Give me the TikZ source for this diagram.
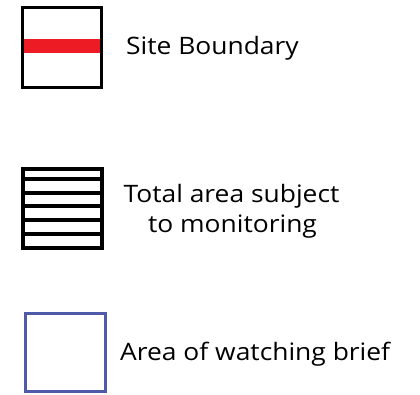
\documentclass[tikz,border=0pt]{standalone}
\usepackage{fontspec}
\setmainfont[FakeStretch=1.1]{Open Sans}
\definecolor{sitered}{RGB}{237,28,36}
\definecolor{briefblue}{RGB}{79,90,168}
\begin{document}
\begin{tikzpicture}[x=1pt,y=-1pt,
  legtext/.style={font=\fontsize{24}{28}\selectfont, inner sep=0pt, anchor=base west},
  legtextc/.style={font=\fontsize{24}{28}\selectfont, inner sep=0pt, anchor=base}]
\useasboundingbox[fill=white] (0,0) rectangle (420,395);
% Site boundary
\fill[sitered] (22.5,39) rectangle (101.5,53);
\draw[line width=3pt] (22.5,7.5) rectangle (101.5,87.5);
\node[legtext] (t1) at (126,55) {Site Boundary};
% Monitoring
\foreach \yy in {179,193,206,220,234}
  \fill[black] (23,\yy-2.3) rectangle (102,\yy+2.3);
\draw[line width=4pt] (23,169) rectangle (102,248);
\node[legtextc] (t2a) at (231.5,203) {Total area subject};
\node[legtextc] (t2b) at (232.5,233) {to monitoring};
% Watching brief
\draw[briefblue,line width=3pt] (25.5,313.5) rectangle (105.5,391.5);
\node[legtext] (t3) at (120,360) {Area of watching brief};
\end{tikzpicture}
\end{document}
